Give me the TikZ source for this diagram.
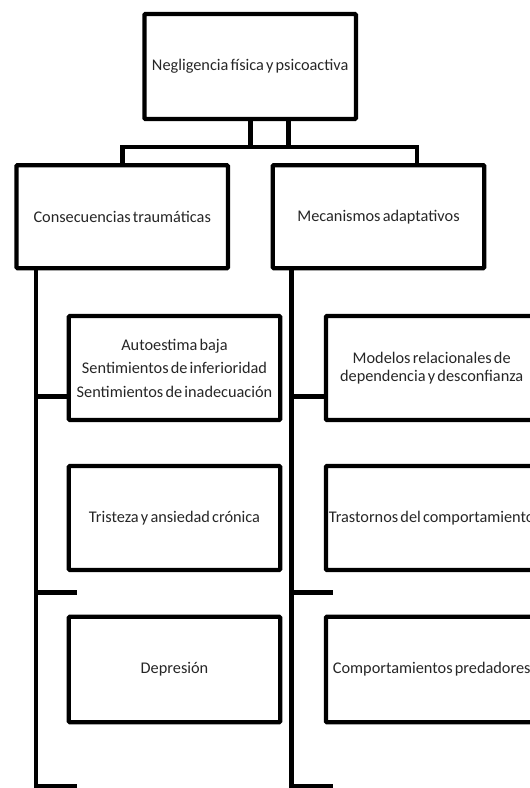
\documentclass[tikz,border=0pt]{standalone}
\usepackage{fontspec}
\setmainfont{Carlito}[WordSpace=0.6]
\begin{document}
\begin{tikzpicture}[x=1pt,y=-1pt,
  box/.style={draw=black, line width=4.2pt, rounded corners=1pt, minimum width=211.5pt, minimum height=104pt, inner sep=0pt, align=center, text=black!85, font=\fontsize{16.3}{18.5}\selectfont},
  conn/.style={draw=black, line width=4.6pt}]
\useasboundingbox (0,0) rectangle (530,788);
\clip (0,0) rectangle (530,788);
% boxes
\node[box, minimum height=105pt] (top) at (250.2,66.5) {Negligencia física y psicoactiva};
\node[box, minimum height=103pt] (cons) at (122.2,216.7) {Consecuencias traumáticas};
\node[box, minimum height=103pt] (mec) at (378.5,216.7) {Mecanismos adaptativos};
\node[box] (l1) at (174.5,368) {Autoestima baja\\[5pt]Sentimientos de inferioridad\\[5pt]Sentimientos de inadecuación};
\node[box] (l2) at (174.5,518) {Tristeza y ansiedad crónica};
\node[box, minimum height=105.5pt] (l3) at (174.5,669.5) {Depresión};
\node[box] (r1) at (431.7,368) {Modelos relacionales de\\dependencia y desconfianza};
\node[box] (r2) at (431.7,518) {Trastornos del comportamiento};
\node[box, minimum height=105.5pt] (r3) at (431.7,669.5) {Comportamientos predadores};
% top connectors
\coordinate (bar) at (250,147);
\draw[conn] (cons.north) |- (bar) -| ([xshift=38.5pt]mec.north);
\draw[conn] (top.south) -- (top.south |- bar);
\draw[conn] ([xshift=38.5pt]top.south) -- ([xshift=38.5pt]top.south |- bar);
% trunks
\coordinate (tl) at ([xshift=21.8pt]cons.south west);
\coordinate (tr) at ([xshift=20.8pt]mec.south west);
\coordinate (ybot) at (0,786.7);
\coordinate (yend) at (0,790);
\coordinate (ymid) at (0,592.7);
\draw[conn] (tl) -- (tl |- yend);
\draw[conn] (tr) -- (tr |- yend);
% stubs
\coordinate (l1s) at ([yshift=-28.7pt]l1.west);
\coordinate (r1s) at ([yshift=-28.7pt]r1.west);
\draw[conn] (tl |- l1s) -- (l1s);
\draw[conn] (tr |- r1s) -- (r1s);
\draw[conn] (tl |- ymid) -- ++(41,0);
\draw[conn] (tr |- ymid) -- ++(42,0);
\draw[conn] (tl |- ybot) -- ++(41,0);
\draw[conn] (tr |- ybot) -- ++(42,0);
\end{tikzpicture}
\end{document}
